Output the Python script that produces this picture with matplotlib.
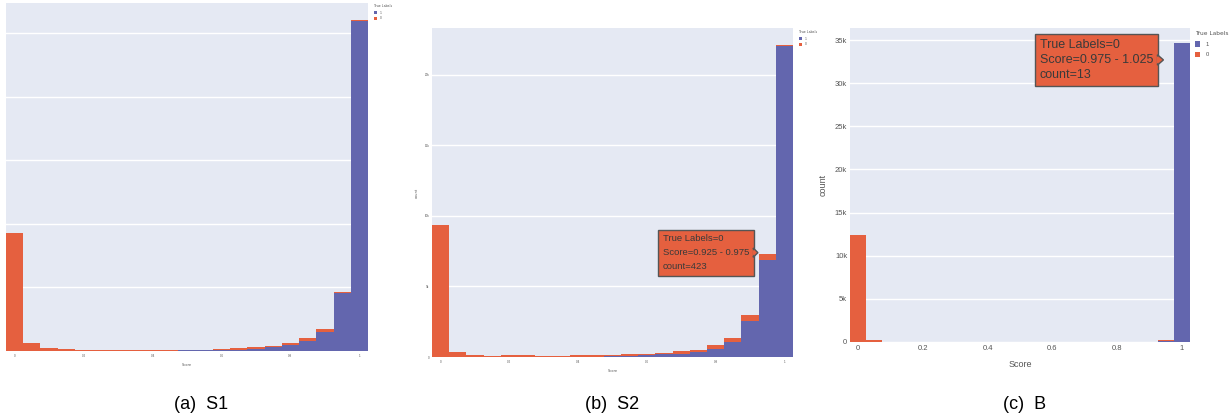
import numpy as np
import matplotlib
matplotlib.use("Agg")
import matplotlib.pyplot as plt
from matplotlib.patches import Polygon

# score bins (centres, width 0.05)
score_bins = np.linspace(0, 1, 21)

# S1 counts per bin
s1_label1 = [0, 0, 0, 0, 0, 0, 0, 0, 0, 30, 40, 50, 60, 100, 160, 290, 500, 810, 1520, 4540, 25980]
s1_label0 = [9270, 600, 260, 130, 100, 100, 50, 50, 50, 70, 60, 60, 100, 100, 130, 110, 160, 210, 210, 110, 80]

# S2 counts per bin
s2_label1 = [0, 0, 0, 0, 0, 0, 0, 0, 0, 20, 40, 100, 120, 190, 240, 350, 570, 1080, 2570, 6870, 22080]
s2_label0 = [9360, 330, 170, 100, 120, 120, 100, 70, 140, 110, 100, 90, 90, 90, 160, 170, 260, 290, 400, 423, 70]

# B counts per bin
b_label1 = [0, 0, 0, 0, 0, 0, 0, 0, 0, 0, 0, 0, 0, 0, 0, 0, 0, 0, 0, 170, 34650]
b_label0 = [12370, 230, 50, 50, 50, 50, 50, 50, 50, 50, 50, 50, 50, 50, 50, 50, 50, 50, 50, 60, 13]

yticks = [0, 5000, 10000, 15000, 20000, 25000, 30000, 35000]
ytick_labels = ["0", "5k", "10k", "15k", "20k", "25k", "30k", "35k"]
xticks = [0, 0.2, 0.4, 0.6, 0.8, 1]
xtick_labels = ["0", "0.2", "0.4", "0.6", "0.8", "1"]

BLUE = "#6366ae"
ORANGE = "#e5603f"
BG = "#e5e9f3"
FONT = ["Liberation Sans", "DejaVu Sans"]

W, H = 1231, 419
fig = plt.figure(figsize=(W / 100, H / 100), dpi=100)


def px_axes(x0, y0, x1, y1):
    return fig.add_axes([x0 / W, 1 - y1 / H, (x1 - x0) / W, (y1 - y0) / H])


def draw_hist(ax, lab1, lab0, ymax, fs, show_y=True):
    ax.set_facecolor(BG)
    ax.bar(score_bins, lab1, width=0.05, color=BLUE, linewidth=0, zorder=2, label="1")
    ax.bar(score_bins, lab0, width=0.05, bottom=lab1, color=ORANGE, linewidth=0, zorder=2, label="0")
    for s in ax.spines.values():
        s.set_visible(False)
    ax.yaxis.grid(True, color="white", lw=1, zorder=1)
    ax.set_axisbelow(True)
    ax.tick_params(length=0, labelsize=fs, colors="#555555", pad=2)
    ax.set_xticks(xticks, xtick_labels, fontfamily=FONT)
    ax.set_yticks(yticks, ytick_labels if show_y else [""] * len(yticks), fontfamily=FONT)
    ax.set_xlim(-0.025, 1.025)
    ax.set_ylim(0, ymax)


def legend(ax, x, y, fs, spacing):
    ax.legend(title="True Labels", loc="upper left", bbox_to_anchor=(x / W, 1 - y / H),
              bbox_transform=fig.transFigure, frameon=False, title_fontsize=fs,
              handlelength=0.9, handleheight=1.1, handletextpad=0.9, labelspacing=spacing,
              borderpad=0, borderaxespad=0, prop={"family": FONT, "size": fs},
              labelcolor="#555555")
    lg = ax.get_legend()
    lg.get_title().set_color("#555555")
    lg._legend_box.align = "left"
    lg._legend_box.sep = fs * 0.9


def tooltip(ax, x, y, text, fs, linespacing, pad, base, tip, dy):
    ax.text(x, y, text, ha="right", va="center", multialignment="left", fontsize=fs,
            family=FONT, color="#3a3a3a", linespacing=linespacing, zorder=10,
            bbox=dict(boxstyle="square,pad=%.2f" % pad, fc=ORANGE, ec="#555555", lw=1))
    ax.add_patch(Polygon([[base, y + dy], [base, y - dy], [tip, y]],
                         closed=True, fc=ORANGE, ec="#555555", lw=1, zorder=11, clip_on=False))
    ax.add_patch(Polygon([[base - 0.003, y + dy * 0.8], [base - 0.003, y - dy * 0.8], [tip - 0.006, y]],
                         closed=True, fc=ORANGE, ec="none", zorder=12, clip_on=False))


# (a) S1
ax1 = px_axes(6, 3, 368, 351)
draw_hist(ax1, s1_label1, s1_label0, 27400, 2.2, show_y=False)
ax1.set_xlabel("Score", fontsize=2.5, color="#555555", labelpad=4)
legend(ax1, 374, 4, 2.3, 0.5)

# (b) S2
ax2 = px_axes(432, 28, 793, 357)
draw_hist(ax2, s2_label1, s2_label0, 23330, 2.2)
ax2.set_xlabel("Score", fontsize=2.5, color="#555555", labelpad=4)
ax2.set_ylabel("count", fontsize=2.5, color="#555555", labelpad=4)
legend(ax2, 799, 30, 2.3, 0.5)
tooltip(ax2, 0.898, 7400, "True Labels=0\nScore=0.925 - 0.975\ncount=423",
        6.8, 1.7, 0.5, 0.9093, 0.923, 330)

# (c) B
ax3 = px_axes(850, 28, 1190, 342)
draw_hist(ax3, b_label1, b_label0, 36400, 5.5)
ax3.set_xlabel("Score", fontsize=6.5, color="#555555", labelpad=6, fontfamily=FONT)
ax3.set_ylabel("count", fontsize=6.5, color="#555555", labelpad=5, fontfamily=FONT)
legend(ax3, 1195, 31, 4.2, 0.8)
tooltip(ax3, 0.911, 32700, "True Labels=0\nScore=0.975 - 1.025\ncount=13",
        9, 1.36, 0.4, 0.9245, 0.943, 600)

# captions
for cx, cap in [(201, "(a)  S1"), (612, "(b)  S2"), (1025, "(c)  B")]:
    fig.text(cx / W, 1 - 404 / H, cap, ha="center", va="center", fontsize=13,
             family="Liberation Sans")

fig.savefig("out.png", dpi=100)
